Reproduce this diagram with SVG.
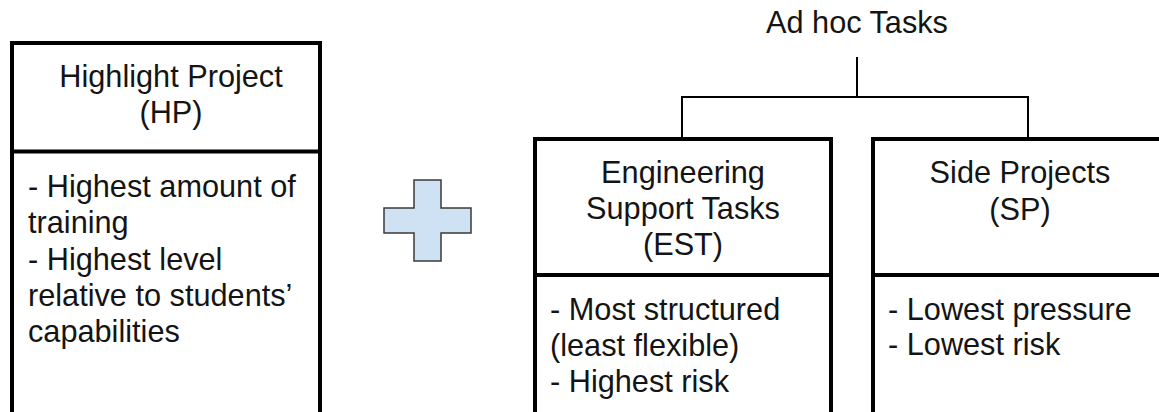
<svg xmlns="http://www.w3.org/2000/svg" width="1159" height="412" viewBox="0 0 1159 412">
  <style>
    .box { fill: #ffffff; stroke: #000000; stroke-width: 4; }
    .div { stroke: #000000; stroke-width: 4; }
    .conn { fill: none; stroke: #000000; stroke-width: 2; }
    .t { font-family: "Liberation Sans", Arial, sans-serif; font-size: 30.7px; fill: #141414; }
    .c { text-anchor: middle; }
    .plus { fill: #cfe2f3; stroke: #3a3a3a; stroke-width: 1.5; }
  </style>
  <rect width="1159" height="412" fill="#ffffff"/>

  <!-- tree connectors -->
  <g id="connectors">
    <path class="conn" d="M857 57 V97"/>
    <path class="conn" d="M682 139 V97 H1028 V139"/>
  </g>

  <text id="adhoc" class="t c" x="857" y="33">Ad hoc Tasks</text>

  <g id="hp">
    <rect class="box" x="12" y="43" width="308" height="372"/>
    <line class="div" x1="12" y1="151.5" x2="320" y2="151.5"/>
    <text class="t c" x="171" y="87">Highlight Project</text>
    <text class="t c" x="171" y="123">(HP)</text>
    <text class="t" x="28" y="197">- Highest amount of</text>
    <text class="t" x="28" y="233">training</text>
    <text class="t" x="28" y="270">- Highest level</text>
    <text class="t" x="28" y="306">relative to students’</text>
    <text class="t" x="28" y="342">capabilities</text>
  </g>

  <g id="plus">
    <path class="plus" d="M414 180 H441 V208 H471 V233 H441 V261 H414 V233 H384 V208 H414 Z"/>
  </g>

  <g id="est">
    <rect class="box" x="535" y="139" width="296" height="276"/>
    <line class="div" x1="535" y1="275" x2="831" y2="275"/>
    <text class="t c" x="683" y="183">Engineering</text>
    <text class="t c" x="683" y="219">Support Tasks</text>
    <text class="t c" x="683" y="255">(EST)</text>
    <text class="t" x="550" y="320">- Most structured</text>
    <text class="t" x="550" y="356">(least flexible)</text>
    <text class="t" x="550" y="392">- Highest risk</text>
  </g>

  <g id="sp">
    <rect class="box" x="873" y="139" width="296" height="276"/>
    <line class="div" x1="873" y1="275" x2="1169" y2="275"/>
    <text class="t c" x="1020" y="183">Side Projects</text>
    <text class="t c" x="1020" y="220">(SP)</text>
    <text class="t" x="888" y="320">- Lowest pressure</text>
    <text class="t" x="888" y="355">- Lowest risk</text>
  </g>
</svg>
